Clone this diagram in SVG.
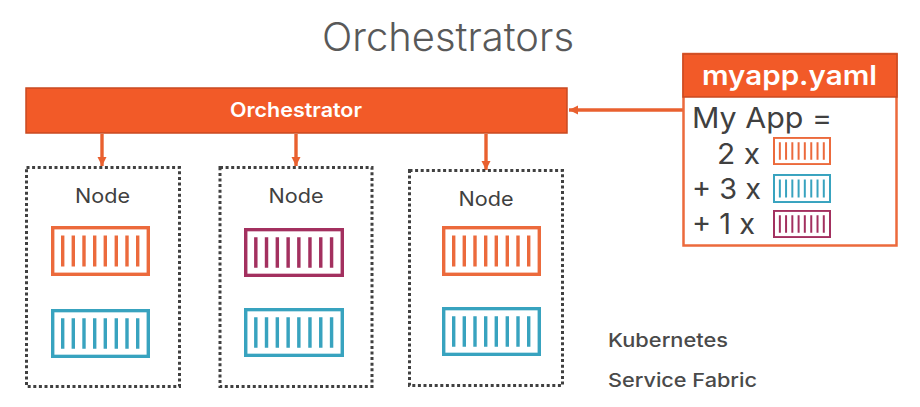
<svg xmlns="http://www.w3.org/2000/svg" width="920" height="407" viewBox="0 0 920 407">
<style>
text{font-family:"Inter","Open Sans","Liberation Sans",sans-serif;fill:#404040}
.t{font-size:20px;font-weight:400;text-anchor:middle}
.big{font-size:29px;font-weight:400}
.w{fill:#fff;font-weight:600;text-anchor:middle}
.side{font-size:19px;font-weight:500;fill:#4a4a4a}
.dot{fill:none;stroke:#404040;stroke-width:3;stroke-dasharray:3 2.600}
.conn{fill:none;stroke:#e9602f;stroke-width:3.400}
.o{color:#ec6a3c}.b{color:#38a3bf}.p{color:#a3305f}
</style>
<defs>
<symbol id="c" viewBox="0 0 99 50" preserveAspectRatio="none">
<rect x="1.700" y="1.700" width="95.600" height="46.600" fill="#fff" stroke="currentColor" stroke-width="3.400"/>
<path d="M11.700 9.500V40.500M22.300 9.500V40.500M33 9.500V40.500M43.700 9.500V40.500M54.300 9.500V40.500M65.300 9.500V40.500M76 9.500V40.500M86.700 9.500V40.500" stroke="currentColor" stroke-width="3.400" fill="none"/>
</symbol>
<marker id="a" markerUnits="userSpaceOnUse" markerWidth="10" markerHeight="10" refX="9" refY="5" orient="auto"><path d="M0 0.500L9 5L0 9.500Z" fill="#e9602f"/></marker>
</defs>
<text id="title" x="322" y="51" font-size="39" textLength="252" lengthAdjust="spacingAndGlyphs" style="font-weight:300;fill:#595959">Orchestrators</text>
<g id="connectors">
<path class="conn" d="M102 134V166" marker-end="url(#a)"/>
<path class="conn" d="M296 134V166" marker-end="url(#a)"/>
<path class="conn" d="M486 134V170" marker-end="url(#a)"/>
<path class="conn" d="M683 110H569" marker-end="url(#a)"/>
</g>
<g id="orchestrator">
<rect x="26" y="88" width="541" height="45" fill="#f25a28" stroke="#c94a20" stroke-width="1.500"/>
<text class="w" x="296" y="117" font-size="20" textLength="132" lengthAdjust="spacingAndGlyphs">Orchestrator</text>
</g>
<g id="node1">
<rect class="dot" x="26.500" y="167.500" width="153" height="219"/>
<text class="t" x="102.500" y="203" textLength="55" lengthAdjust="spacingAndGlyphs">Node</text>
<use href="#c" class="o" x="51" y="226" width="99" height="50"/>
<use href="#c" class="b" x="51" y="309" width="99" height="49"/>
</g>
<g id="node2">
<rect class="dot" x="220" y="167.500" width="152" height="219"/>
<text class="t" x="296" y="203" textLength="55" lengthAdjust="spacingAndGlyphs">Node</text>
<use href="#c" class="p" x="244" y="228" width="100" height="49"/>
<use href="#c" class="b" x="244" y="308" width="100" height="49"/>
</g>
<g id="node3">
<rect class="dot" x="409.500" y="170.500" width="153" height="215"/>
<text class="t" x="486" y="206" textLength="55" lengthAdjust="spacingAndGlyphs">Node</text>
<use href="#c" class="o" x="442" y="226" width="99" height="50"/>
<use href="#c" class="b" x="442" y="307" width="99" height="49"/>
</g>
<g id="myapp">
<rect x="683.500" y="54" width="213" height="191.500" fill="#fff" stroke="#ec6a3c" stroke-width="2.500"/>
<rect x="683" y="54" width="214" height="43" fill="#f25a28" stroke="#c94a20" stroke-width="1.500"/>
<text class="w" x="789.500" y="85" font-size="27" textLength="175" lengthAdjust="spacingAndGlyphs">myapp.yaml</text>
<text class="big" x="692" y="128" textLength="140" lengthAdjust="spacingAndGlyphs">My App =</text>
<text class="big" x="717" y="164" textLength="43" lengthAdjust="spacingAndGlyphs">2 x</text>
<text class="big" x="692" y="199" textLength="69" lengthAdjust="spacingAndGlyphs">+ 3 x</text>
<text class="big" x="692" y="234" textLength="63" lengthAdjust="spacingAndGlyphs">+ 1 x</text>
<use href="#c" class="o" x="773" y="137" width="58" height="28"/>
<use href="#c" class="b" x="773" y="174" width="58" height="29"/>
<use href="#c" class="p" x="773" y="210" width="58" height="28"/>
</g>
<text id="k8s" class="side" x="608" y="347" textLength="120" lengthAdjust="spacingAndGlyphs">Kubernetes</text>
<text id="sf" class="side" x="608" y="387" textLength="149" lengthAdjust="spacingAndGlyphs">Service Fabric</text>
</svg>
